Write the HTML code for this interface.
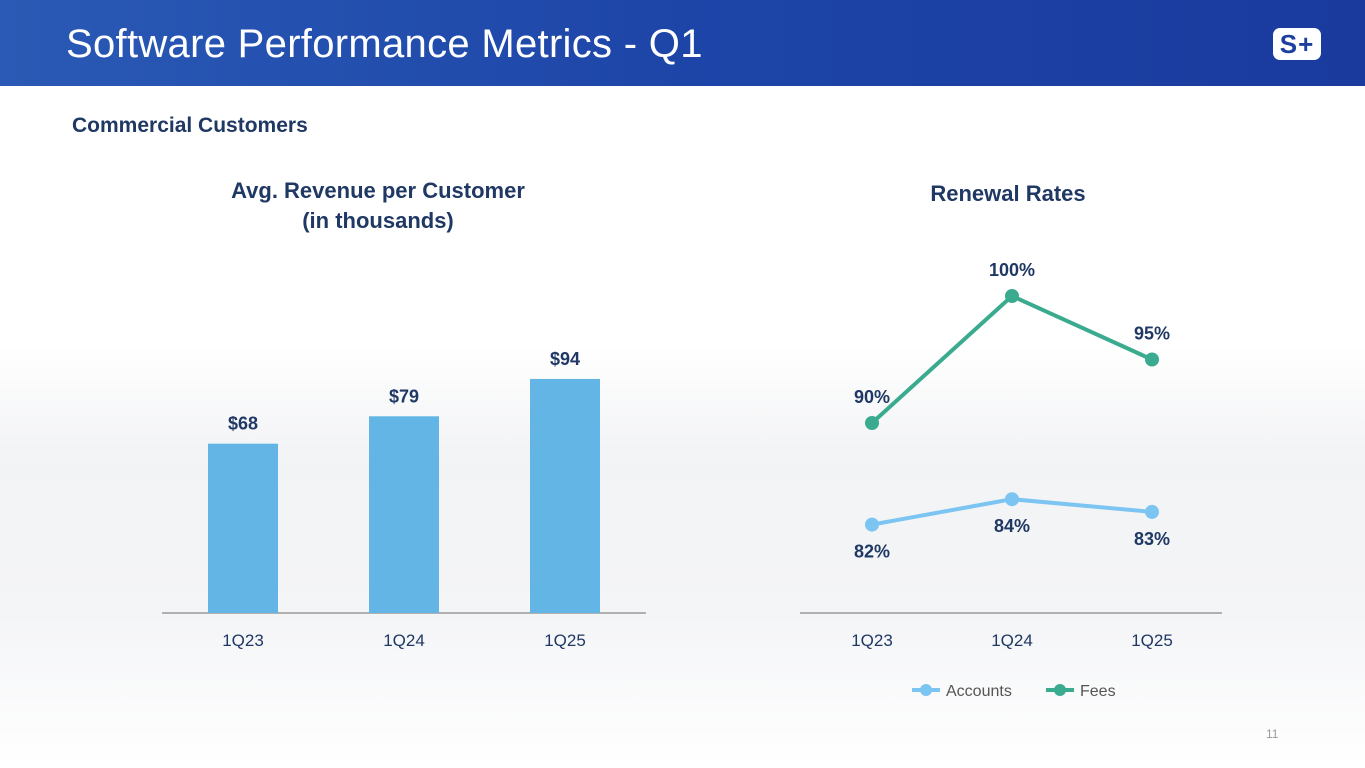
<!DOCTYPE html>
<html><head><meta charset="utf-8"><style>
body{margin:0;width:1365px;height:768px;overflow:hidden;background:linear-gradient(180deg,#fff 0%,#fff 45%,#f2f3f5 60%,#f4f5f7 80%,#fff 100%);font-family:"Liberation Sans",sans-serif;position:relative}
.hdr{position:absolute;left:0;top:0;width:1365px;height:86px;background:linear-gradient(90deg,#2a5ab5 0%,#1d45a8 50%,#1a3a9e 100%)}
.title{position:absolute;left:66px;top:22px;color:#fff;font-size:40px;letter-spacing:0.3px}
.sub{position:absolute;left:72px;top:114px;color:#1f3864;font-weight:bold;font-size:21px}
.logo{position:absolute;left:1273px;top:28px;width:48px;height:32px;background:#fff;border-radius:7px;color:#1d3f9e;font-weight:bold;font-size:26px;line-height:32px;text-align:center;letter-spacing:1px}
.pg{position:absolute;left:1266px;top:727px;color:#999;font-size:12px}
</style></head><body>
<div class="hdr"></div>
<div class="title">Software Performance Metrics - Q1</div>
<div class="logo">S+</div>
<div class="sub">Commercial Customers</div>
<div class="pg">11</div>
<svg id="c" width="1365" height="768" style="position:absolute;left:0;top:0">
<text x="378" y="198" text-anchor="middle" font-size="22" font-weight="bold" fill="#1f3864">Avg. Revenue per Customer</text>
<text x="378" y="228" text-anchor="middle" font-size="22" font-weight="bold" fill="#1f3864">(in thousands)</text>
<text x="1008" y="201" text-anchor="middle" font-size="22" font-weight="bold" fill="#1f3864">Renewal Rates</text>
<line x1="162" y1="613" x2="646" y2="613" stroke="#999" stroke-width="1.5"/>
<line x1="800" y1="613" x2="1222" y2="613" stroke="#999" stroke-width="1.5"/>
<g id="g"></g>
<g>
<line x1="912" y1="690" x2="940" y2="690" stroke="#7cc4f2" stroke-width="4"/><circle cx="926" cy="690" r="6" fill="#7cc4f2"/>
<text x="946" y="696" font-size="16" fill="#555">Accounts</text>
<line x1="1046" y1="690" x2="1074" y2="690" stroke="#3aab8e" stroke-width="4"/><circle cx="1060" cy="690" r="6" fill="#3aab8e"/>
<text x="1080" y="696" font-size="16" fill="#555">Fees</text>
</g>
</svg>
<script>
const barCats=["1Q23","1Q24","1Q25"];
const barVals=[68,79,94];
const lineCats=["1Q23","1Q24","1Q25"];
const accounts=[82,84,83];
const fees=[90,100,95];
const NS="http://www.w3.org/2000/svg",g=document.getElementById('g');
function mk(t,a,txt){const e=document.createElementNS(NS,t);for(const k in a)e.setAttribute(k,a[k]);if(txt!=null)e.textContent=txt;g.appendChild(e);return e;}
const bx=i=>243+i*161, by=v=>613-v*2.49;
const lx=i=>872+i*140, ly=v=>296+(100-v)*12.7;
barVals.forEach((v,i)=>{
 let r=mk('rect',{x:bx(i)-35,y:by(v),width:70,height:613-by(v),fill:'#62b5e5'});
 
 
 let t=mk('text',{x:bx(i),y:by(v)-14,'text-anchor':'middle','font-size':18,'font-weight':'bold',fill:'#1f3864'},'$'+v);
 
 
 let c=mk('text',{x:bx(i),y:646,'text-anchor':'middle','font-size':17,fill:'#1f3864'},barCats[i]);
 
 
});
lineCats.forEach((c,i)=>{
 let t=mk('text',{x:lx(i),y:646,'text-anchor':'middle','font-size':17,fill:'#1f3864'},c);
 
 
});
function series(vals,col,name,below){
 let p=mk('polyline',{points:vals.map((v,i)=>lx(i)+','+ly(v)).join(' '),fill:'none',stroke:col,'stroke-width':4});
 
 
 vals.forEach((v,i)=>{
  let c=mk('circle',{cx:lx(i),cy:ly(v),r:7,fill:col});
  
  
  let t=mk('text',{x:lx(i),y:below(i)?ly(v)+33:ly(v)-20,'text-anchor':'middle','font-size':18,'font-weight':'bold',fill:'#1f3864'},v+'%');
  
  
 });
}
series(accounts,'#7cc4f2','accounts',i=>true);
series(fees,'#3aab8e','fees',i=>false);
</script>
</body></html>
